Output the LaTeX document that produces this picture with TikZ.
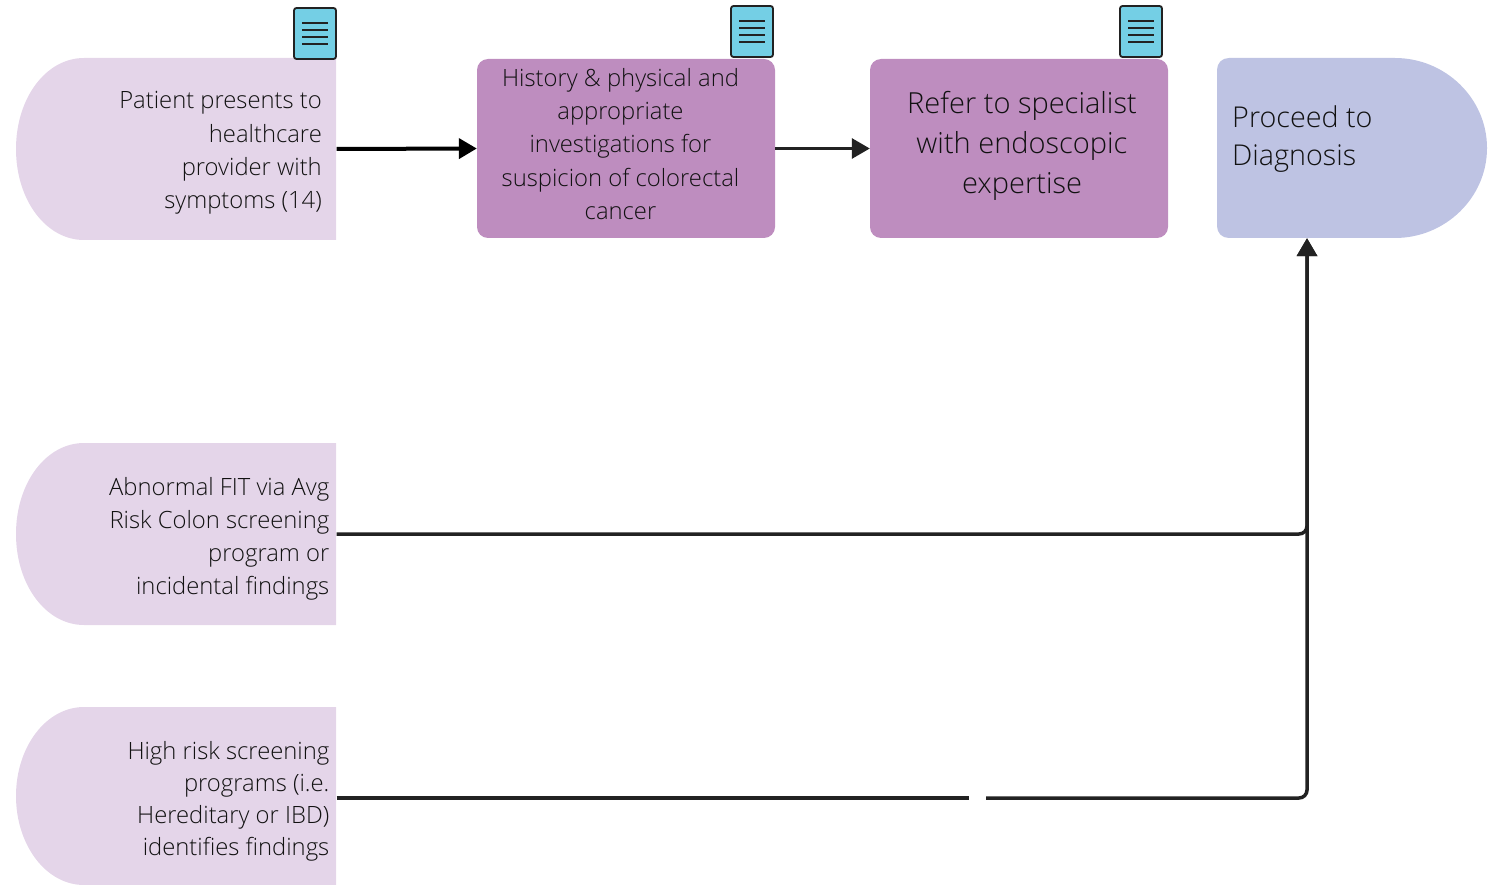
\documentclass[tikz,border=0pt]{standalone}
\usepackage{fontspec}
\setmainfont{Open Sans Light}[UprightFont=*]
\usetikzlibrary{arrows.meta,calc}
\definecolor{lilac}{HTML}{E4D5E9}
\definecolor{mauve}{HTML}{BE8DBF}
\definecolor{lav}{HTML}{BEC3E3}
\definecolor{iconblue}{HTML}{74CFE5}
\definecolor{ink}{HTML}{222222}
\definecolor{txt}{HTML}{111111}
\tikzset{
  x=1pt,y=-1pt,
  smalltxt/.style={text=txt,font=\fontsize{23.8}{33.2}\selectfont,inner sep=0pt},
  bigtxt/.style={text=txt,font=\fontsize{29}{40}\selectfont,inner sep=0pt},
  flow/.style={draw=ink,line width=3.5pt,rounded corners=8pt},
  arrowed/.style={-{Triangle[length=18pt,width=20pt]}},
  iconbox/.style={draw=ink,line width=1.8pt,fill=iconblue,rounded corners=2.5pt,minimum width=42pt,minimum height=51pt,inner sep=0pt},
  iconline/.style={draw=ink,line width=1.6pt},
}
\newcommand{\dshape}[2]{% top y, bottom y
  \fill[lilac] (336,#1) -- (84,#1) .. controls (46,#1) and (16,{#1+40}) .. (16,{(#1+#2)/2})
    .. controls (16,{#2-40}) and (46,#2) .. (84,#2) -- (336,#2) -- cycle;}
\newcommand{\docicon}[3]{% name, center x, center y
  \node[iconbox] (#1) at (#2,#3) {};
  \foreach \dy in {-10.5,-3.5,3.5,10.5}
    \draw[iconline] ($(#1.center)+(-13,\dy)$) -- ($(#1.center)+(13,\dy)$);}
\begin{document}
\begin{tikzpicture}
\useasboundingbox (0,0) rectangle (1490,885);
% left terminators
\dshape{58}{240}
\dshape{443}{625}
\dshape{707}{885}
\node[inner sep=0pt,minimum width=320pt,minimum height=182pt] (pat) at (176.5,149) {};
\node[inner sep=0pt,minimum width=320pt,minimum height=182pt] (fit) at (176.5,534) {};
\node[inner sep=0pt,minimum width=320pt,minimum height=178pt] (high) at (176.5,796) {};
\node[smalltxt,align=right,anchor=east] (pattxt) at (322,153) {Patient presents to\\healthcare\\provider with\\symptoms (14)};
\node[smalltxt,align=right,anchor=east] (fittxt) at (329.5,539) {Abnormal FIT via Avg\\Risk Colon screening\\program or\\incidental findings};
\node[smalltxt,align=right,anchor=east,font=\fontsize{23.8}{32}\selectfont] (hightxt) at (329.5,801) {High risk screening\\programs (i.e.\\Hereditary or IBD)\\identifies findings};
% process boxes
\node[fill=mauve,rounded corners=11pt,inner sep=0pt,minimum width=298pt,minimum height=179pt] (hist) at (626,148.5) {};
\node[fill=mauve,rounded corners=11pt,inner sep=0pt,minimum width=298pt,minimum height=179pt] (refer) at (1019,148.5) {};
\node[smalltxt,align=center] (histtxt) at (620.5,144) {History \& physical and\\appropriate\\investigations for\\suspicion of colorectal\\cancer};
\node[bigtxt,align=center] (refertxt) at (1022,146) {Refer to specialist\\with endoscopic\\expertise};
% end terminator
\fill[lav] (1229,58) -- (1395,58) .. controls (1445,58) and (1487,98) .. (1487,148)
  .. controls (1487,198) and (1445,238) .. (1395,238) -- (1229,238)
  .. controls (1222,238) and (1217,233) .. (1217,226) -- (1217,70)
  .. controls (1217,63) and (1222,58) .. (1229,58) -- cycle;
\node[inner sep=0pt,minimum width=180pt,minimum height=180pt] (diag) at (1307,148) {};
\node[bigtxt,align=left,anchor=west,font=\fontsize{28.7}{38}\selectfont] (diagtxt) at (1232,139) {Proceed to\\Diagnosis};
% icons
\docicon{ia}{315}{33.5}
\docicon{ib}{752}{31.5}
\docicon{ic}{1141}{31.5}
% connectors
\draw[line width=4pt,draw=black,-{Triangle[length=18pt,width=20pt]},black] (pat.east) -- (hist.west);
\draw[line width=3pt,draw=ink,ink,arrowed] (hist.east) -- (refer.west);
\draw[flow,arrowed,ink] (fit.east) -| (diag.south);
\coordinate (gapl) at (969,798);
\coordinate (gapr) at (986,798);
\draw[flow] (high.east |- gapl) -- (gapl);
\draw[flow,arrowed,ink] (gapr) -| (diag.south);
\end{tikzpicture}
\end{document}
